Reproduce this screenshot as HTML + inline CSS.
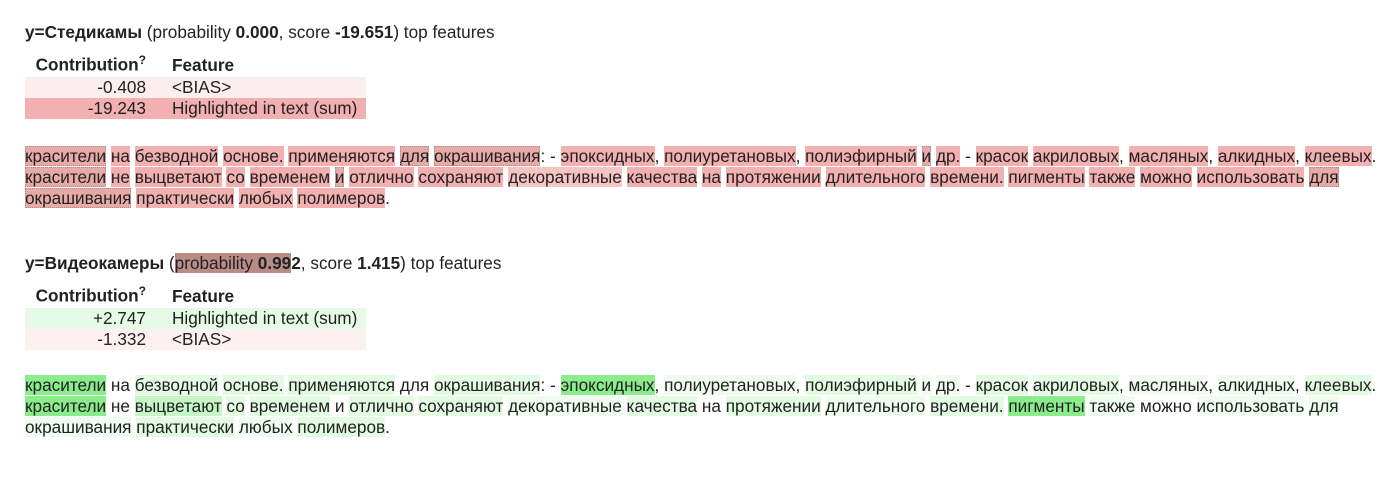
<!DOCTYPE html>
<html><head><meta charset="utf-8"><style>
body{margin:0;background:#fff;width:1400px;height:479px;overflow:hidden;font-family:"Liberation Sans",Arial,sans-serif;color:#222;font-size:17.2px}
.h{position:absolute;left:25px;font-size:17.2px;white-space:nowrap}
table{position:absolute;left:25px;border-collapse:collapse;font-size:17.2px}
td,th{padding:0;height:21px;line-height:21px}
th{font-weight:bold;text-align:left;height:26px;vertical-align:bottom;padding-bottom:1px}
.c{width:121px;text-align:right;padding-right:26px}
.f{width:194px}
sup{font-size:12px}
.t{position:absolute;left:25px;line-height:21px;white-space:nowrap}
.r{background:#f3b0b0}
.rd{background:#e8aaa6;outline:1px dotted #b08c88;outline-offset:-1px}
.g{background:#8aec8a}
.gm{background:#c6f6c6}
.gl{background:#e2fbe2}
.gx{background:#f0fcf0}
</style></head><body>
<div class="h" style="top:22px"><b>y=Стедикамы</b> (probability <b>0.000</b>, score <b>-19.651</b>) top features</div>
<table style="top:50px">
<tr><th class="c" style="text-align:right">Contribution<sup>?</sup></th><th>Feature</th></tr>
<tr style="background:#fbeeee"><td class="c">-0.408</td><td class="f">&lt;BIAS&gt;</td></tr>
<tr style="background:#f3b0b0"><td class="c">-19.243</td><td class="f">Highlighted in text (sum)</td></tr>
</table>
<div class="t" style="top:146px"><span class="rd">красители</span> <span class="r">на</span> <span class="r">безводной</span> <span class="r">основе.</span> <span class="r">применяются</span> <span class="rd">для</span> <span class="rd">окрашивания</span>: - <span class="r">эпоксидных</span>, <span class="r">полиуретановых</span>, <span class="r">полиэфирный</span> <span class="rd">и</span> <span class="r">др.</span> - <span class="r">красок</span> <span class="r">акриловых</span>, <span class="r">масляных</span>, <span class="r">алкидных</span>, <span class="r">клеевых</span>.<br><span class="rd">красители</span> <span class="r">не</span> <span class="r">выцветают</span> <span class="r">со</span> <span class="r">временем</span> <span class="rd">и</span> <span class="r">отлично</span> <span class="r">сохраняют</span> <span class="r" style="background:#f6c4c2">декоративные</span> <span class="r">качества</span> <span class="r">на</span> <span class="r">протяжении</span> <span class="r">длительного</span> <span class="r">времени.</span> <span class="r">пигменты</span> <span class="r">также</span> <span class="r">можно</span> <span class="r">использовать</span> <span class="rd">для</span><br><span class="rd">окрашивания</span> <span class="r">практически</span> <span class="r">любых</span> <span class="r">полимеров</span>.</div>

<div class="h" style="top:253px"><b>y=Видеокамеры</b> (<span style="background:#b98d86">probability <b>0.99</b></span><b>2</b>, score <b>1.415</b>) top features</div>
<table style="top:281px">
<tr><th class="c" style="text-align:right">Contribution<sup>?</sup></th><th>Feature</th></tr>
<tr style="background:#e6fbe6"><td class="c">+2.747</td><td class="f">Highlighted in text (sum)</td></tr>
<tr style="background:#fcf1ef"><td class="c">-1.332</td><td class="f">&lt;BIAS&gt;</td></tr>
</table>
<div class="t" style="top:375px"><span class="g">красители</span> на <span class="gl">безводной</span> <span class="gl">основе.</span> <span class="gl">применяются</span> для <span class="gl">окрашивания</span>: - <span class="g">эпоксидных</span>, <span class="gx">полиуретановых</span>, <span class="gl">полиэфирный</span> <span class="gx">и</span> <span class="gx">др.</span> - <span class="gl">красок</span> <span class="gl">акриловых</span>, <span class="gx">масляных</span>, <span class="gx">алкидных</span>, <span class="gl">клеевых</span>.<br><span class="g">красители</span> не <span class="gm">выцветают</span> <span class="gl">со</span> <span class="gl">временем</span> и <span class="gl">отлично</span> <span class="gl">сохраняют</span> <span class="gx">декоративные</span> <span class="gl">качества</span> на <span class="gl">протяжении</span> <span class="gx">длительного</span> <span class="gl">времени.</span> <span class="g">пигменты</span> <span class="gx">также</span> можно <span class="gx">использовать</span> <span class="gx">для</span><br><span class="gx">окрашивания</span> <span class="gl">практически</span> <span class="gx">любых</span> <span class="gl">полимеров</span>.</div>
</body></html>
